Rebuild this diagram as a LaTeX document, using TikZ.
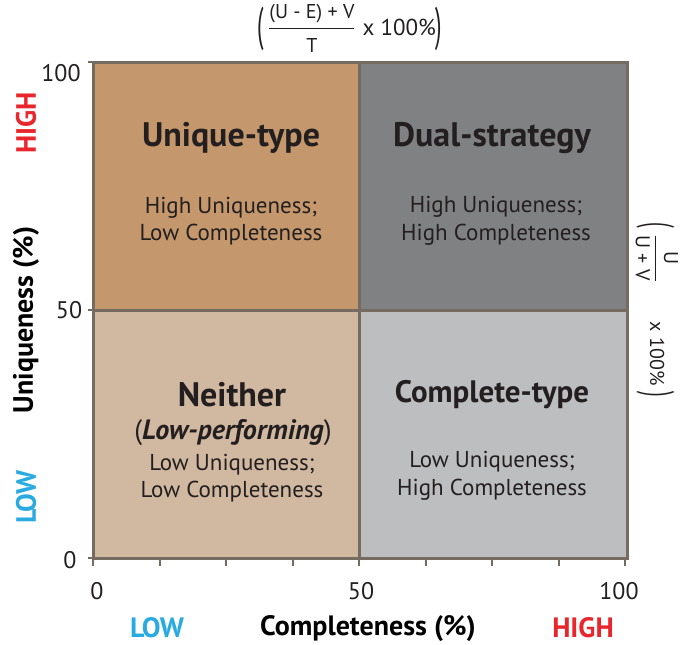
\documentclass[tikz,border=0pt]{standalone}
\usepackage{amsmath}
\usepackage{graphicx}
\usepackage{fontspec}
\setmainfont{PT Sans}
\usetikzlibrary{positioning}
\definecolor{QuadTan}{HTML}{C4986C}
\definecolor{QuadGray}{HTML}{808183}
\definecolor{QuadSand}{HTML}{D1B8A0}
\definecolor{QuadSilver}{HTML}{BDBEC0}
\definecolor{FrameBrown}{HTML}{766B60}
\definecolor{TextDark}{HTML}{231F20}
\definecolor{AxisRed}{HTML}{E8262B}
\definecolor{AxisBlue}{HTML}{29ABE2}
\newcommand{\tallparen}[1]{\vcenter{\hbox{\scalebox{1}[2.05]{#1}}}}

\begin{document}
\begin{tikzpicture}[x=1pt, y=-1pt, every node/.style={text=TextDark, align=center, inner sep=0pt},
    quad/.style={draw=FrameBrown, line width=3pt, minimum width=268pt, minimum height=248pt},
    quadtitle/.style={font=\fontsize{34}{38}\selectfont\bfseries},
    quadtext/.style={font=\fontsize{23}{27.5}\selectfont},
    ticklabel/.style={font=\fontsize{24}{26}\selectfont},
    axistitle/.style={font=\fontsize{28}{30}\selectfont\bfseries, text=black},
    levelhigh/.style={font=\fontsize{28}{30}\selectfont\bfseries, text=AxisRed},
    levellow/.style={font=\fontsize{28}{30}\selectfont\bfseries, text=AxisBlue}]
    \useasboundingbox (0,0) rectangle (680,645);

    % four quadrants
    \node[quad, fill=QuadTan] (ul) at (227,186) {};
    \node[quad, fill=QuadGray] (ur) at (493,186) {};
    \node[quad, fill=QuadSand] (ll) at (227,434) {};
    \node[quad, fill=QuadSilver] (lr) at (493,434) {};

    \node[quadtitle] (ultitle) at (231,138) {Unique-type};
    \node[quadtext] (ultext) at (231,221) {High Uniqueness;\\Low Completeness};
    \node[quadtitle] (urtitle) at (492,138) {Dual-strategy};
    \node[quadtext] (urtext) at (496,221) {High Uniqueness;\\High Completeness};
    \node[quadtitle] (lltitle) at (232,395) {Neither};
    \node[font=\fontsize{28}{30}\selectfont] (llnote) at (233,433) {(\textbf{\textit{Low-performing}})};
    \node[quadtext] (lltext) at (232,478) {Low Uniqueness;\\Low Completeness};
    \node[quadtitle, font=\fontsize{31}{34}\selectfont\bfseries] (lrtitle) at (492,395) {Complete-type};
    \node[quadtext] (lrtext) at (492,476) {Low Uniqueness;\\High Completeness};

    % ticks
    \foreach \i in {0,...,8}
        \draw[FrameBrown, line width=2pt] (93+66.5*\i,558) -- +(0,8);
    \foreach \yy in {62,310,558}
        \draw[FrameBrown, line width=2pt] (93,\yy) -- +(-5,0);

    \node[ticklabel] (x0) at (97,591) {0};
    \node[ticklabel] (x50) at (361,591) {50};
    \node[ticklabel] (x100) at (619,591) {100};
    \node[ticklabel] (y100) at (61,73) {100};
    \node[ticklabel] (y50) at (69,310) {50};
    \node[ticklabel] (y0) at (70,560) {0};

    % axis titles
    \node[axistitle] (xtitle) at (368,629) {Completeness (\%)};
    \node[levellow] (xlow) at (157,628) {LOW};
    \node[levelhigh] (xhigh) at (583,628) {HIGH};
    \node[axistitle, rotate=90] (ytitle) at (26,320) {Uniqueness (\%)};
    \node[levelhigh, rotate=90] (yhigh) at (26,123) {HIGH};
    \node[levellow, rotate=90] (ylow) at (26,497) {LOW};

    % formulas
    \node[font=\fontsize{23}{24}\selectfont] (xformula) at (350,28)
        {$\tallparen{(}\,\dfrac{\text{\fontsize{20}{22}\selectfont(U - E) + V}}{\text{\fontsize{20}{22}\selectfont T}}\;\text{x 100\%}\tallparen{)}$};
    \node[font=\fontsize{20}{22}\selectfont, rotate=-90] (yformula) at (657,310)
        {$\tallparen{(}\;\dfrac{\text{U}}{\text{U + V}}\qquad\text{x 100\%}\;\tallparen{)}$};
\end{tikzpicture}
\end{document}
